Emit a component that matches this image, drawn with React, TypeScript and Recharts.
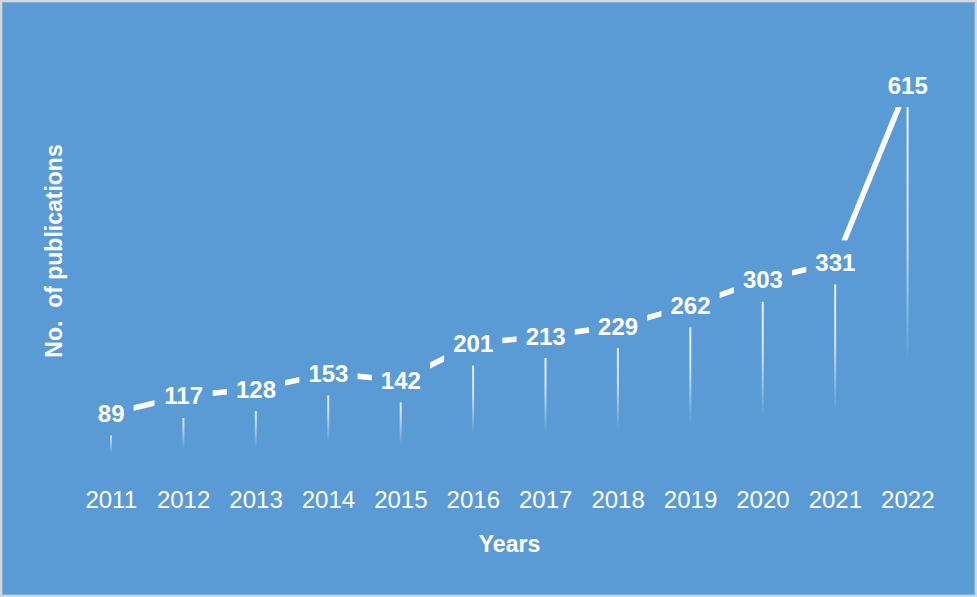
import React from 'react';
import { ComposedChart, Line, Bar, XAxis, YAxis, LabelList } from 'recharts';

const years = ['2011', '2012', '2013', '2014', '2015', '2016', '2017', '2018', '2019', '2020', '2021', '2022'];
const publications = [89, 117, 128, 153, 142, 201, 213, 229, 262, 303, 331, 615];

const data = years.map((y, i) => ({ year: y, pubs: publications[i] }));

const BG = '#5B9BD5';
const FONT = '"Liberation Sans", Arial, sans-serif';

const PointLabel = (props: any) => {
  const { x, y, value } = props;
  const s = String(value);
  const halfW = s.length * 6.7 + 9;
  return (
    <g>
      <rect x={x - halfW} y={y - 22} width={halfW * 2} height={44} fill={BG} />
      <text
        x={x}
        y={y}
        textAnchor="middle"
        dominantBaseline="central"
        fill="#fff"
        fontSize={24}
        fontWeight="bold"
        fontFamily={FONT}
      >
        {s}
      </text>
    </g>
  );
};

export default function App() {
  return (
    <div style={{ position: 'absolute', left: 0, top: 0, width: 977, height: 597, background: BG }}>
      <ComposedChart
        width={977}
        height={597}
        data={data}
        margin={{ top: 32, right: 33, left: 75, bottom: 98 }}
      >
        <defs>
          <linearGradient id="dropGrad" x1="0" y1="0" x2="0" y2="1">
            <stop offset="0" stopColor="#fff" stopOpacity={0.95} />
            <stop offset="0.4" stopColor="#fff" stopOpacity={0.7} />
            <stop offset="0.72" stopColor="#fff" stopOpacity={0} />
            <stop offset="1" stopColor="#fff" stopOpacity={0} />
          </linearGradient>
        </defs>
        <XAxis
          dataKey="year"
          height={30}
          axisLine={false}
          tickLine={false}
          tickSize={6}
          tickMargin={16}
          interval={0}
          tick={{ fill: '#fff', fontSize: 24, fontFamily: FONT }}
          label={{
            content: () => (
              <text
                x={509.5}
                y={552}
                textAnchor="middle"
                fill="#fff"
                fontSize={23}
                fontWeight="bold"
                fontFamily={FONT}
              >
                Years
              </text>
            ),
          }}
        />
        <YAxis domain={[0, 700]} hide />
        <Bar dataKey="pubs" barSize={2} fill="url(#dropGrad)" isAnimationActive={false} />
        <Line
          type="linear"
          dataKey="pubs"
          stroke="#fff"
          strokeWidth={5.5}
          dot={false}
          activeDot={false}
          isAnimationActive={false}
        >
          <LabelList dataKey="pubs" content={PointLabel} />
        </Line>
      </ComposedChart>
      <svg
        width={977}
        height={597}
        style={{ position: 'absolute', left: 0, top: 0, pointerEvents: 'none' }}
      >
        <text
          x={54}
          y={251}
          transform="rotate(-90 54 251)"
          textAnchor="middle"
          dominantBaseline="central"
          fill="#fff"
          fontSize={23}
          fontWeight="bold"
          fontFamily={FONT}
        >
          {'No.\u00a0 of publications'}
        </text>
      </svg>
      <div
        style={{
          position: 'absolute',
          left: 0,
          top: 0,
          width: 977,
          height: 597,
          boxSizing: 'border-box',
          border: '2px solid #d6d6d6',
          boxShadow: 'inset 0 0 0 1px #7fb0de',
          pointerEvents: 'none',
        }}
      />
    </div>
  );
}
